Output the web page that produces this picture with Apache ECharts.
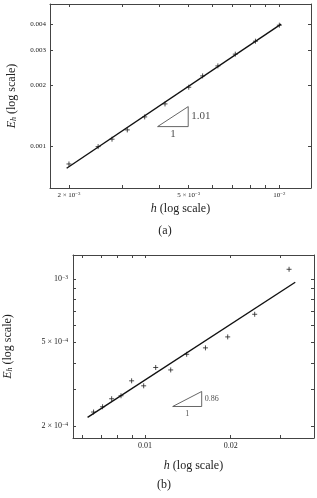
<!DOCTYPE html>
<html>
<head>
<meta charset="utf-8">
<script src="https://cdn.jsdelivr.net/npm/echarts@6/dist/echarts.min.js"></script>
<style>
  html, body { margin: 0; padding: 0; background: #fff; }
  #chart { width: 317px; height: 498px; }
</style>
</head>
<body>
<div id="chart"></div>
<script>
// (a) data
const hA = [0.002, 0.0025, 0.00278, 0.003125, 0.00357, 0.00417, 0.005, 0.00556, 0.00625, 0.00714, 0.00833, 0.01];
const eA = [0.000821, 0.001, 0.001088, 0.001209, 0.001401, 0.001624, 0.001963, 0.002232, 0.0025, 0.002857, 0.00331, 0.00397];
const fitA = [[0.001965, 0.000782], [0.01013, 0.004016]];
const triA = [[0.00394, 0.001255], [0.00498, 0.001255], [0.00498, 0.001575], [0.00394, 0.001255]];
const slopeA = '1.01';
const xTicksA = [0.002, 0.003, 0.004, 0.005, 0.006, 0.007, 0.008, 0.009, 0.01];
const xLabelsA = [0.002, 0.005, 0.01];
const yTicksA = [0.001, 0.002, 0.003, 0.004];

// (b) data
const hB = [0.00659, 0.00709, 0.00763, 0.00823, 0.00897, 0.00989, 0.0109, 0.01231, 0.01401, 0.01631, 0.01953, 0.0243, 0.0321];
const eB = [0.0002335, 0.0002474, 0.00027, 0.000279, 0.0003285, 0.000311, 0.00038, 0.00037, 0.000439, 0.000471, 0.000531, 0.00068, 0.001112];
const fitB = [[0.00628, 0.0002202], [0.03374, 0.000965]];
const triB = [[0.01251, 0.0002481], [0.01582, 0.0002481], [0.01582, 0.0002923], [0.01251, 0.0002481]];
const slopeB = '0.86';
const xTicksB = [0.006, 0.007, 0.008, 0.009, 0.01, 0.02, 0.03];
const xLabelsB = [0.01, 0.02];
const yTicksB = [0.0002, 0.0003, 0.0004, 0.0005, 0.0006, 0.0007, 0.0008, 0.0009, 0.001];
const yLabelsB = [0.0002, 0.0005, 0.001];

const labelText = {
  0.002: '2 × 10{sup|−3}', 0.005: '5 × 10{sup|−3}', 0.01: '10{sup|−2}',
  0.0002: '2 × 10{sup|−4}', 0.0005: '5 × 10{sup|−4}'
};

const FONT = 'Liberation Serif';
const INK = '#222';
const FRAME = '#444';

function nearest(v, list) {
  let best = list[0];
  list.forEach(function (t) { if (Math.abs(Math.log(t / v)) < Math.abs(Math.log(best / v))) best = t; });
  return best;
}

function axisBase(extra) {
  return Object.assign({
    type: 'log',
    logBase: 10,
    axisLine: { show: true, lineStyle: { color: FRAME, width: 1 } },
    axisTick: { show: true, inside: true, length: 3, lineStyle: { color: FRAME } },
    splitLine: { show: false },
    minorTick: { show: false },
    axisLabel: { show: false }
  }, extra);
}

function sci(list, fmt, size, margin) {
  return {
    show: true, customValues: list, margin: margin, fontFamily: FONT, fontSize: size, color: INK,
    formatter: fmt,
    rich: { sup: { fontSize: size * 0.7, fontFamily: FONT, color: INK, verticalAlign: 'top', padding: [0, 0, size * 0.4, 0] } }
  };
}

const nameStyle = {
  fontFamily: FONT, fontSize: 12, color: INK,
  rich: {
    i: { fontFamily: FONT, fontSize: 12, fontStyle: 'italic', color: INK },
    s: { fontFamily: FONT, fontSize: 8, fontStyle: 'italic', color: INK, verticalAlign: 'bottom', padding: [4, 0, 0, 0] }
  }
};

const cross = 'path://M5,0L5,10M0,5L10,5';

function points(h, e) { return h.map(function (v, i) { return [v, e[i]]; }); }

function scatterSeries(idx, data) {
  return {
    type: 'scatter', xAxisIndex: idx, yAxisIndex: idx, data: data,
    symbol: cross, symbolSize: 5, silent: true,
    itemStyle: { color: 'none', borderColor: '#222', borderWidth: 1 }
  };
}

function lineSeries(idx, data, width, color) {
  return {
    type: 'line', xAxisIndex: idx, yAxisIndex: idx, data: data,
    symbol: 'none', silent: true, animation: false,
    lineStyle: { color: color, width: width }
  };
}

function triLabels(idx, tri, slope, size, gapRun, gapRise) {
  const midRun = [Math.sqrt(tri[0][0] * tri[1][0]), tri[0][1]];
  const midRise = [tri[1][0], Math.sqrt(tri[1][1] * tri[2][1])];
  return {
    type: 'scatter', xAxisIndex: idx, yAxisIndex: idx, symbolSize: 0, silent: true,
    data: [
      { value: midRun, label: { show: true, formatter: '1', position: 'bottom', distance: gapRun } },
      { value: midRise, label: { show: true, formatter: slope, position: 'right', distance: gapRise } }
    ],
    label: { fontFamily: FONT, fontSize: size, color: INK }
  };
}

const chart = echarts.init(document.getElementById('chart'));
chart.setOption({
  animation: false,
  backgroundColor: '#fff',
  grid: [
    { left: 50, top: 4, width: 261, height: 184, containLabel: false, outerBoundsMode: 'none' },
    { left: 73, top: 255, width: 241, height: 183, containLabel: false, outerBoundsMode: 'none' }
  ],
  title: [
    { text: '(a)', left: 160, top: 220, textAlign: 'center', textStyle: { fontFamily: FONT, fontSize: 12, fontWeight: 'normal', color: INK } },
    { text: '(b)', left: 159, top: 474, textAlign: 'center', textStyle: { fontFamily: FONT, fontSize: 12, fontWeight: 'normal', color: INK } }
  ],
  xAxis: [
    axisBase({
      gridIndex: 0, position: 'bottom', min: 0.00173, max: 0.01274,
      axisTick: { show: true, inside: true, length: 3, customValues: xTicksA, lineStyle: { color: FRAME } },
      axisLabel: sci(xLabelsA, function (v) { return labelText[nearest(v, xLabelsA)]; }, 7, 3),
      name: '{i|h} (log scale)', nameLocation: 'middle', nameGap: 15, nameTextStyle: nameStyle
    }),
    axisBase({
      gridIndex: 1, position: 'bottom', min: 0.00558, max: 0.03928,
      axisTick: { show: true, inside: true, length: 3, customValues: xTicksB, lineStyle: { color: FRAME } },
      axisLabel: sci(xLabelsB, function (v) { return String(nearest(v, xLabelsB)); }, 8, 4),
      name: '{i|h} (log scale)', nameLocation: 'middle', nameGap: 22, nameTextStyle: nameStyle
    }),
    axisBase({
      gridIndex: 0, position: 'top', min: 0.00173, max: 0.01274,
      axisTick: { show: true, inside: true, length: 3, customValues: xTicksA, lineStyle: { color: FRAME } }
    }),
    axisBase({
      gridIndex: 1, position: 'top', min: 0.00558, max: 0.03928,
      axisTick: { show: true, inside: true, length: 3, customValues: xTicksB, lineStyle: { color: FRAME } }
    })
  ],
  yAxis: [
    axisBase({
      gridIndex: 0, position: 'left', min: 0.000625, max: 0.00505,
      axisTick: { show: true, inside: true, length: 3, customValues: yTicksA, lineStyle: { color: FRAME } },
      axisLabel: sci(yTicksA, function (v) { return nearest(v, yTicksA).toFixed(3); }, 7, 4),
      name: '{i|E}{s|h} (log scale)', nameLocation: 'middle', nameRotate: 90, nameGap: 32, nameTextStyle: nameStyle
    }),
    axisBase({
      gridIndex: 1, position: 'left', min: 0.0001758, max: 0.0013,
      axisTick: { show: true, inside: true, length: 3, customValues: yTicksB, lineStyle: { color: FRAME } },
      axisLabel: sci(yLabelsB, function (v) {
        const t = nearest(v, yLabelsB);
        return t === 0.001 ? '10{sup|−3}' : labelText[t];
      }, 8, 5),
      name: '{i|E}{s|h} (log scale)', nameLocation: 'middle', nameRotate: 90, nameGap: 59, nameTextStyle: nameStyle
    }),
    axisBase({
      gridIndex: 0, position: 'right', min: 0.000625, max: 0.00505,
      axisTick: { show: true, inside: true, length: 3, customValues: yTicksA, lineStyle: { color: FRAME } }
    }),
    axisBase({
      gridIndex: 1, position: 'right', min: 0.0001758, max: 0.0013,
      axisTick: { show: true, inside: true, length: 3, customValues: yTicksB, lineStyle: { color: FRAME } }
    })
  ],
  series: [
    lineSeries(0, fitA, 1.4, '#111'),
    scatterSeries(0, points(hA, eA)),
    lineSeries(0, triA, 0.9, '#555'),
    triLabels(0, triA, slopeA, 11, 2, 3),
    lineSeries(1, fitB, 1.4, '#111'),
    scatterSeries(1, points(hB, eB)),
    lineSeries(1, triB, 0.9, '#555'),
    triLabels(1, triB, slopeB, 8, 3, 3)
  ]
});
</script>
</body>
</html>
